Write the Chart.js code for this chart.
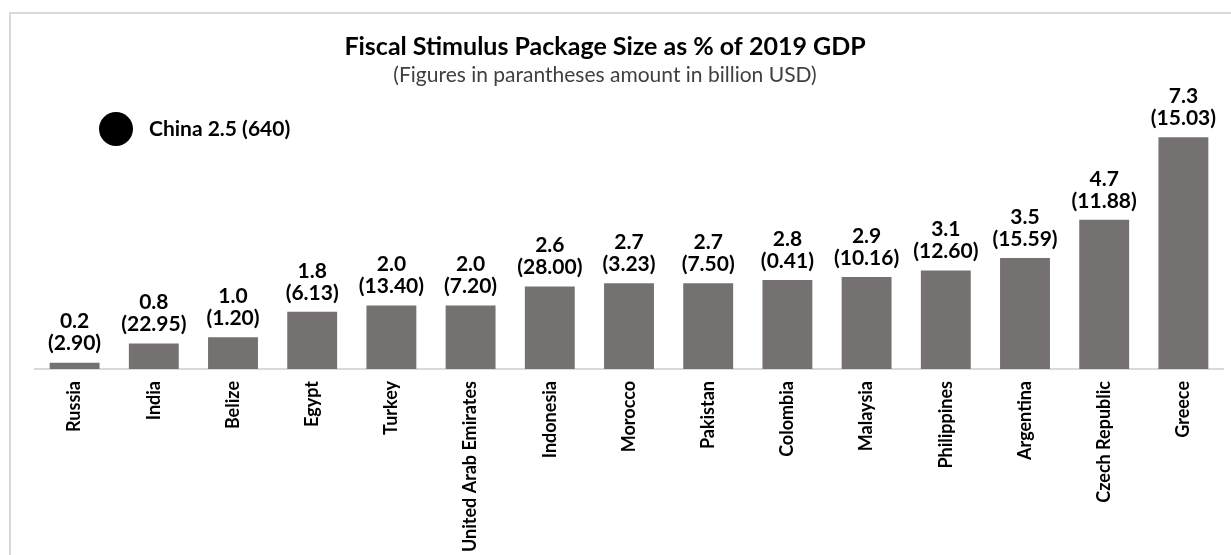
<!DOCTYPE html>
<html>
<head>
<meta charset="utf-8">
<title>Fiscal Stimulus Package Size</title>
<script src="https://cdn.jsdelivr.net/npm/chart.js@4.4.1/dist/chart.umd.min.js"></script>
<style>
    html, body { margin: 0; padding: 0; background: #ffffff; }
    #wrap { width: 1231px; height: 555px; }
</style>
</head>
<body>
<div id="wrap"><canvas id="graficoEstimulo" width="1231" height="555"></canvas></div>
<script>
// countries, stimulus as % of 2019 GDP, and amount in billion USD
const countries = ['Russia', 'India', 'Belize', 'Egypt', 'Turkey', 'United Arab Emirates', 'Indonesia',
    'Morocco', 'Pakistan', 'Colombia', 'Malaysia', 'Philippines', 'Argentina', 'Czech Republic', 'Greece'];
const pctGdp = [0.2, 0.8, 1.0, 1.8, 2.0, 2.0, 2.6, 2.7, 2.7, 2.8, 2.9, 3.1, 3.5, 4.7, 7.3];
const billionUsd = [2.90, 22.95, 1.20, 6.13, 13.40, 7.20, 28.00, 3.23, 7.50, 0.41, 10.16, 12.60, 15.59, 11.88, 15.03];

// China shown apart as a note
const chinaNote = { name: 'China', pct: 2.5, usd: 640 };

const titleText = 'Fiscal Stimulus Package Size as % of 2019 GDP';
const subtitleText = '(Figures in parantheses amount in billion USD)';

const FONT = 'Lato, "Open Sans", sans-serif';

// frame, titles and the China note
const cabecalho = {
    id: 'cabecalho',
    beforeDraw(chart) {
        const c = chart.ctx;
        c.save();
        c.strokeStyle = '#d9d9d9';
        c.lineWidth = 2;
        c.beginPath();
        c.moveTo(10, 555);
        c.lineTo(10, 13);
        c.lineTo(1231, 13);
        c.stroke();
        c.restore();
    },
    afterDraw(chart) {
        const c = chart.ctx;
        c.save();
        c.textAlign = 'center';
        c.textBaseline = 'middle';
        c.fillStyle = '#000000';
        c.font = 'bold 25px ' + FONT;
        c.fillText(titleText, 605, 47);
        c.fillStyle = '#404040';
        c.font = '21px ' + FONT;
        c.fillText(subtitleText, 605, 75);

        c.fillStyle = '#000000';
        c.beginPath();
        c.arc(116, 129, 17, 0, Math.PI * 2);
        c.fill();
        c.textAlign = 'left';
        c.font = 'bold 21px ' + FONT;
        c.fillText(chinaNote.name + ' ' + chinaNote.pct.toFixed(1) + ' (' + chinaNote.usd + ')', 149, 129);
        c.restore();
    }
};

// two-line value labels above each bar
const rotulos = {
    id: 'rotulos',
    afterDatasetsDraw(chart) {
        const c = chart.ctx;
        const meta = chart.getDatasetMeta(0);
        c.save();
        c.textAlign = 'center';
        c.textBaseline = 'middle';
        c.fillStyle = '#000000';
        c.font = 'bold 21px ' + FONT;
        meta.data.forEach((bar, i) => {
            c.fillText(pctGdp[i].toFixed(1), bar.x, bar.y - 41);
            c.fillText('(' + billionUsd[i].toFixed(2) + ')', bar.x, bar.y - 19);
        });
        c.restore();
    }
};

const ctx = document.getElementById('graficoEstimulo').getContext('2d');
new Chart(ctx, {
    type: 'bar',
    data: {
        labels: countries,
        datasets: [{
            label: '% of 2019 GDP',
            data: pctGdp,
            backgroundColor: '#767171',
            borderWidth: 0,
            barPercentage: 0.63,
            categoryPercentage: 1.0
        }]
    },
    options: {
        responsive: false,
        animation: false,
        layout: {
            padding: { left: 35, right: 8, top: 115, bottom: 0 }
        },
        plugins: {
            legend: { display: false },
            title: { display: false },
            tooltip: { enabled: false }
        },
        scales: {
            x: {
                grid: { display: false, drawTicks: false },
                border: { display: true, color: '#d9d9d9', width: 2 },
                ticks: {
                    autoSkip: false,
                    minRotation: 90,
                    maxRotation: 90,
                    padding: 12,
                    color: '#000000',
                    font: { family: FONT, size: 18, weight: 'bold' }
                },
                afterFit(scale) {
                    scale.height = 186;
                }
            },
            y: {
                display: false,
                min: 0,
                max: 8
            }
        }
    },
    plugins: [cabecalho, rotulos]
});
</script>
</body>
</html>
